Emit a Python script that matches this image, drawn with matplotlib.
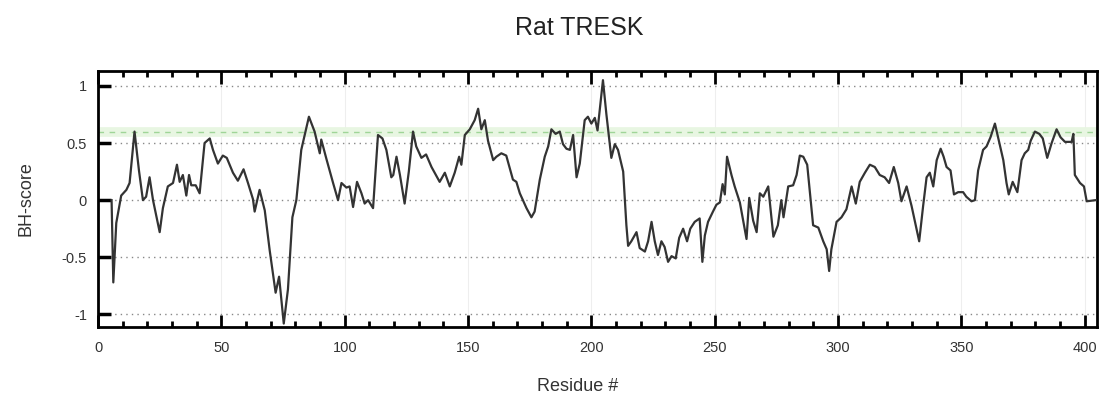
import matplotlib
matplotlib.use("Agg")
import matplotlib.pyplot as plt
from matplotlib.ticker import MultipleLocator

plt.rcParams['font.family'] = ['Liberation Sans', 'DejaVu Sans']

# values
residue = [5.5, 6.2, 7.4, 9.4, 11.5, 12.8, 14.8, 16.6, 18.2, 19.5, 20.9, 22.3, 25.0, 26.3,
           28.3, 30.4, 32.0, 33.1, 34.4, 35.8, 36.9, 37.8, 39.6, 41.2, 43.2, 45.3, 46.6,
           48.6, 50.6, 52.2, 54.7, 56.7, 59.0, 60.8, 62.8, 63.5, 65.5, 67.6, 69.6, 72.0,
           73.4, 75.3, 77.0, 78.8, 80.4, 82.4, 85.5, 87.8, 89.9, 90.5, 92.6, 95.3, 97.3,
           98.7, 100.7, 102.0, 103.4, 105.0, 106.8, 108.1, 109.5, 111.5, 113.5, 115.3,
           116.9, 118.9, 119.7, 121.0, 122.4, 124.3, 126.0, 127.7, 129.0, 131.1, 133.0,
           135.2, 138.5, 140.6, 142.6, 144.6, 146.4, 147.3, 148.7, 150.7, 152.7, 154.1,
           155.4, 156.8, 158.1, 160.2, 161.5, 163.5, 165.5, 168.2, 169.6, 171.0, 173.7,
           175.7, 177.0, 179.1, 181.1, 182.5, 183.8, 185.5, 187.2, 188.5, 189.9, 191.3,
           192.6, 194.0, 195.3, 197.3, 198.6, 200.0, 201.4, 202.5, 204.7, 206.1, 208.1,
           209.5, 210.8, 212.9, 214.2, 214.9, 216.2, 218.3, 219.6, 221.7, 223.0, 224.4,
           225.7, 227.0, 228.4, 229.7, 231.1, 232.5, 234.2, 235.6, 237.2, 238.8, 240.1,
           241.9, 243.9, 245.0, 246.0, 247.3, 249.3, 250.7, 252.1, 253.2, 254.1, 255.0,
           256.8, 258.1, 260.2, 262.9, 264.0, 265.6, 267.0, 268.3, 269.7, 271.7, 273.8,
           275.6, 277.0, 277.9, 279.8, 281.8, 283.2, 284.5, 285.9, 287.5, 289.9, 292.0,
           294.0, 295.4, 296.4, 297.3, 299.4, 301.4, 303.4, 305.5, 307.2, 308.8, 310.9,
           312.9, 314.9, 316.9, 318.9, 320.7, 322.6, 324.4, 325.7, 327.8, 329.8, 332.9,
           334.5, 335.9, 337.2, 338.6, 340.0, 341.6, 342.8, 344.0, 345.6, 347.0, 348.7,
           350.7, 352.0, 354.1, 355.5, 356.8, 358.8, 360.2, 361.8, 363.6, 365.6, 367.0,
           368.3, 369.2, 370.8, 372.7, 374.4, 375.7, 377.1, 378.1, 379.8, 381.6, 383.0,
           384.8, 386.6, 388.6, 390.2, 392.0, 394.7, 395.4, 396.0, 398.1, 399.7, 400.8,
           404.5]
bh_score = [0.0, -0.72, -0.20, 0.04, 0.09, 0.15, 0.60, 0.26, 0.00, 0.03, 0.20, 0.00, -0.28, -0.07,
            0.12, 0.15, 0.31, 0.16, 0.22, 0.04, 0.22, 0.13, 0.13, 0.06, 0.50, 0.54, 0.44,
            0.32, 0.39, 0.37, 0.24, 0.17, 0.27, 0.15, 0.01, -0.10, 0.09, -0.09, -0.44, -0.81,
            -0.67, -1.08, -0.78, -0.15, 0.00, 0.44, 0.73, 0.60, 0.41, 0.53, 0.36, 0.15, 0.00,
            0.15, 0.11, 0.12, -0.06, 0.16, 0.06, -0.03, 0.00, -0.07, 0.57, 0.54,
            0.44, 0.20, 0.22, 0.38, 0.22, -0.03, 0.25, 0.60, 0.47, 0.37, 0.40,
            0.29, 0.16, 0.24, 0.12, 0.24, 0.38, 0.31, 0.57, 0.62, 0.70, 0.80,
            0.62, 0.70, 0.52, 0.35, 0.38, 0.41, 0.39, 0.18, 0.16, 0.06, -0.07,
            -0.15, -0.10, 0.18, 0.38, 0.47, 0.62, 0.58, 0.60, 0.49, 0.45, 0.44,
            0.57, 0.20, 0.32, 0.70, 0.73, 0.67, 0.72, 0.61, 1.05, 0.75, 0.37,
            0.49, 0.44, 0.25, -0.22, -0.40, -0.36, -0.28, -0.42, -0.45, -0.36, -0.19,
            -0.36, -0.48, -0.36, -0.41, -0.54, -0.49, -0.51, -0.33, -0.25, -0.36, -0.25,
            -0.19, -0.16, -0.54, -0.31, -0.19, -0.10, -0.04, -0.02, 0.14, 0.05, 0.38,
            0.22, 0.12, -0.02, -0.34, 0.02, -0.18, -0.28, 0.06, 0.03, 0.12, -0.32,
            -0.22, 0.00, -0.15, 0.12, 0.13, 0.22, 0.39, 0.38, 0.31, -0.22, -0.24,
            -0.36, -0.43, -0.62, -0.43, -0.19, -0.15, -0.08, 0.12, -0.03, 0.16, 0.24,
            0.31, 0.29, 0.22, 0.20, 0.15, 0.29, 0.15, -0.01, 0.12, -0.05, -0.36,
            -0.05, 0.20, 0.24, 0.12, 0.35, 0.45, 0.38, 0.29, 0.26, 0.05, 0.07,
            0.07, 0.03, -0.01, 0.00, 0.26, 0.44, 0.47, 0.55, 0.67, 0.48, 0.35,
            0.15, 0.05, 0.16, 0.07, 0.35, 0.41, 0.44, 0.52, 0.60, 0.58, 0.54,
            0.37, 0.50, 0.62, 0.55, 0.51, 0.51, 0.58, 0.22, 0.15, 0.12, -0.01,
            0.00]
threshold = 0.6

fig = plt.figure(figsize=(11.05, 3.99), dpi=100)
ax = fig.add_axes([0.0887, 0.1805, 0.9041, 0.6415])

for y in [-1, -0.5, 0, 0.5, 1]:
    ax.axhline(y, color='#888888', lw=1.0, ls=(0, (1, 3)), zorder=1)
for x in range(50, 401, 50):
    ax.axvline(x, color='#eeeeee', lw=0.8, zorder=0)
ax.axhline(threshold, color='#e8f6e2', lw=7, zorder=1)
ax.axhline(threshold, color='#9fd597', lw=1.0, ls=(0, (4, 4)), zorder=1)

ax.plot(residue, bh_score, color='#333333', lw=1.6, zorder=3)

ax.set_xlim(0, 405)
ax.set_ylim(-1.11, 1.13)
ax.set_xticks(range(0, 401, 50))
ax.xaxis.set_minor_locator(MultipleLocator(10))
ax.set_yticks([-1, -0.5, 0, 0.5, 1])
ax.set_yticklabels(['-1', '-0.5', '0', '0.5', '1'])
ax.tick_params(axis='x', which='major', direction='in', top=True, length=9, width=2,
               labelsize=10.5, pad=10, labelcolor='#333333')
ax.tick_params(axis='x', which='minor', direction='in', top=True, length=4, width=2)
ax.tick_params(axis='y', which='major', direction='in', length=9, width=2.5,
               labelsize=10.5, pad=8, labelcolor='#333333')
for s in ax.spines.values():
    s.set_linewidth(2)

ax.set_ylabel('BH-score', fontsize=13, color='#333333')
ax.yaxis.set_label_coords(-0.064, 0.5)
ax.set_xlabel('Residue #', fontsize=13, color='#333333')
ax.xaxis.set_label_coords(0.48, -0.20)
fig.text(0.524, 0.93, 'Rat TRESK', fontsize=18, ha='center', va='center', color='#222222')

fig.savefig('out.png', dpi=100)
